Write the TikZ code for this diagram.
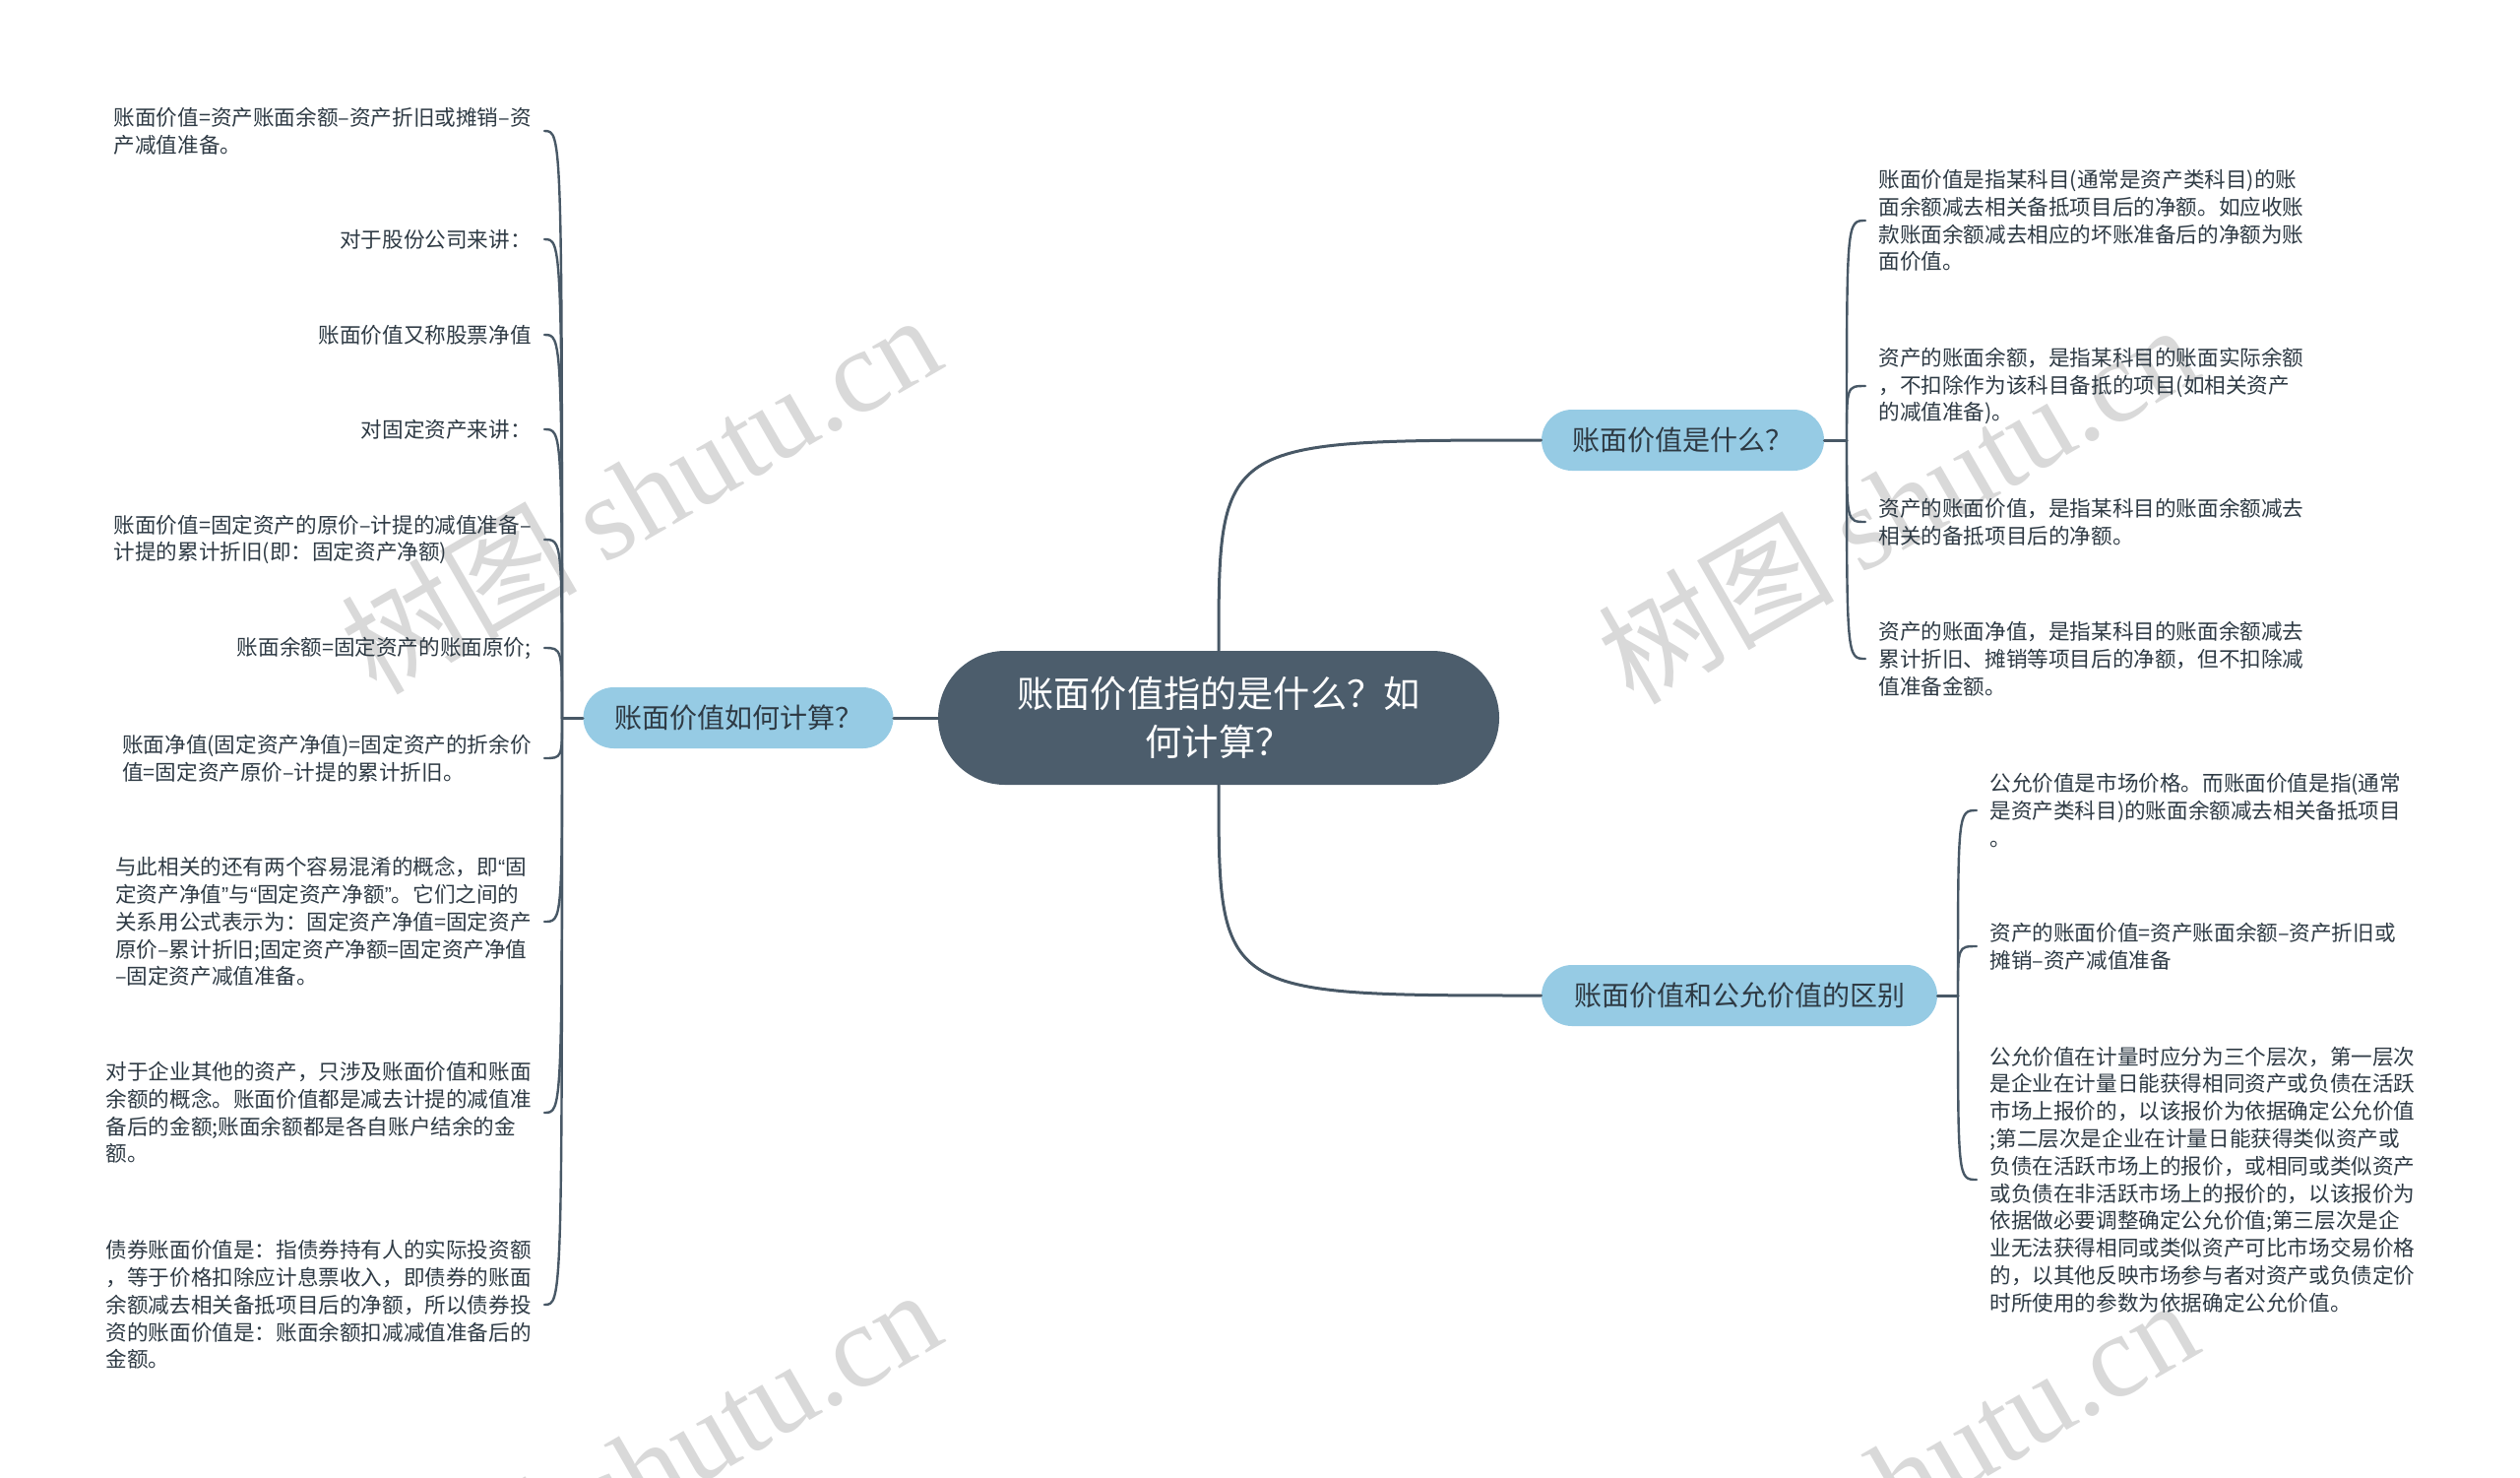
\documentclass[tikz,border=0pt]{standalone}
\usepackage{fontspec}
\setmainfont{Noto Sans CJK SC}
\newfontfamily\wmfont{Liberation Serif}
\newfontfamily\quotefont{Liberation Sans}
\newcommand{\narrowq}[1]{{\quotefont #1}}
\definecolor{rootfill}{HTML}{4C5D6C}
\definecolor{topicfill}{HTML}{96CBE4}
\definecolor{linkcol}{HTML}{485866}
\definecolor{inkcol}{HTML}{2E3A44}
\definecolor{wmgray}{HTML}{D9D9D9}

\begin{document}
\begin{tikzpicture}[x=0.5pt, y=-0.5pt, line cap=round, line join=round,
  root/.style={fill=rootfill, text=white, rounded corners=34pt, minimum width=285pt,
    minimum height=68pt, align=center, font=\fontsize{18.6}{24.5}\selectfont},
  topic/.style={fill=topicfill, text=inkcol, rounded corners=15.5pt, minimum height=31pt,
    inner xsep=0pt, font=\fontsize{14}{17}\selectfont},
  leaf/.style={text=inkcol, align=left, inner xsep=6.5pt, inner ysep=2pt,
    font=\fontsize{10.8}{13.9}\selectfont},
  branch/.style={draw=linkcol, line width=1.5pt},
  twig/.style={draw=linkcol, line width=1.2pt},
  wmark/.style={text=wmgray, rotate=30, font=\fontsize{60}{60}\selectfont}]
  \useasboundingbox (0,0) rectangle (2560,1500);

  % watermark, behind everything
  \node[wmark] (wm1) at (650,500) {树图 {\wmfont shutu.cn}};
  \node[wmark] (wm2) at (1927,510) {树图 {\wmfont shutu.cn}};
  \node[wmark] (wm3) at (650,1490) {树图 {\wmfont shutu.cn}};
  \node[wmark] (wm4) at (1927,1500) {树图 {\wmfont shutu.cn}};

  % root and the three topics
  \node[root] (root) at (1238,729) {账面价值指的是什么？如\\何计算？};
  \node[topic, minimum width=157.5pt] (calc) at (750,729) {账面价值如何计算？};
  \node[topic, minimum width=143.5pt] (what) at (1709.5,447) {账面价值是什么？};
  \node[topic, minimum width=201pt] (diff) at (1767,1011) {账面价值和公允价值的区别};

  \draw[branch] (root.west) -- (calc.east);
  \draw[branch] (root.north) .. controls (root.north |- what.west) .. (what.west);
  \draw[branch] (root.south) .. controls (root.south |- diff.west) .. (diff.west);

  % left side: how to compute
  \node[leaf, anchor=east] (c1) at (553,133) {账面价值=资产账面余额–资产折旧或摊销–资\\产减值准备。};
  \node[leaf, anchor=east] (c2) at (553,243) {对于股份公司来讲：};
  \node[leaf, anchor=east] (c3) at (553,340) {账面价值又称股票净值};
  \node[leaf, anchor=east] (c4) at (553,436) {对固定资产来讲：};
  \node[leaf, anchor=east] (c5) at (553,548) {账面价值=固定资产的原价–计提的减值准备–\\计提的累计折旧(即：固定资产净额)};
  \node[leaf, anchor=east] (c6) at (553,658) {账面余额=固定资产的账面原价;};
  \node[leaf, anchor=east] (c7) at (553,770) {账面净值(固定资产净值)=固定资产的折余价\\值=固定资产原价–计提的累计折旧。};
  \node[leaf, anchor=east] (c8) at (553,936) {与此相关的还有两个容易混淆的概念，即\narrowq{“}固\\定资产净值\narrowq{”}与\narrowq{“}固定资产净额\narrowq{”}。它们之间的\\关系用公式表示为：固定资产净值=固定资产\\原价–累计折旧;固定资产净额=固定资产净值\\–固定资产减值准备。};
  \node[leaf, anchor=east] (c9) at (553,1130) {对于企业其他的资产，只涉及账面价值和账面\\余额的概念。账面价值都是减去计提的减值准\\备后的金额;账面余额都是各自账户结余的金\\额。};
  \node[leaf, anchor=east] (c10) at (553,1325) {债券账面价值是：指债券持有人的实际投资额\\，等于价格扣除应计息票收入，即债券的账面\\余额减去相关备抵项目后的净额，所以债券投\\资的账面价值是：账面余额扣减减值准备后的\\金额。};

  \coordinate (cj) at (571,729);
  \draw[branch] (calc.west) -- (cj);
  \foreach \n in {c1,c2,c3,c4,c5,c6,c7,c8,c9,c10}
    \draw[twig] (cj) .. controls (cj |- \n.east) .. (\n.east);

  % right top: what it is
  \node[leaf, anchor=west] (w1) at (1895,224) {账面价值是指某科目(通常是资产类科目)的账\\面余额减去相关备抵项目后的净额。如应收账\\款账面余额减去相应的坏账准备后的净额为账\\面价值。};
  \node[leaf, anchor=west] (w2) at (1895,392) {资产的账面余额，是指某科目的账面实际余额\\，不扣除作为该科目备抵的项目(如相关资产\\的减值准备)。};
  \node[leaf, anchor=west] (w3) at (1895,530) {资产的账面价值，是指某科目的账面余额减去\\相关的备抵项目后的净额。};
  \node[leaf, anchor=west] (w4) at (1895,669) {资产的账面净值，是指某科目的账面余额减去\\累计折旧、摊销等项目后的净额，但不扣除减\\值准备金额。};

  \coordinate (wj) at (1876,447);
  \draw[branch] (what.east) -- (wj);
  \foreach \n in {w1,w2,w3,w4}
    \draw[twig] (wj) .. controls (wj |- \n.west) .. (\n.west);

  % right bottom: book value vs fair value
  \node[leaf, anchor=west] (d1) at (2008,823) {公允价值是市场价格。而账面价值是指(通常\\是资产类科目)的账面余额减去相关备抵项目\\。};
  \node[leaf, anchor=west] (d2) at (2008,961) {资产的账面价值=资产账面余额–资产折旧或\\摊销–资产减值准备};
  \node[leaf, anchor=west] (d3) at (2008,1198) {公允价值在计量时应分为三个层次，第一层次\\是企业在计量日能获得相同资产或负债在活跃\\市场上报价的，以该报价为依据确定公允价值\\;第二层次是企业在计量日能获得类似资产或\\负债在活跃市场上的报价，或相同或类似资产\\或负债在非活跃市场上的报价的，以该报价为\\依据做必要调整确定公允价值;第三层次是企\\业无法获得相同或类似资产可比市场交易价格\\的，以其他反映市场参与者对资产或负债定价\\时所使用的参数为依据确定公允价值。};

  \coordinate (dj) at (1989,1011);
  \draw[branch] (diff.east) -- (dj);
  \foreach \n in {d1,d2,d3}
    \draw[twig] (dj) .. controls (dj |- \n.west) .. (\n.west);
\end{tikzpicture}
\end{document}
